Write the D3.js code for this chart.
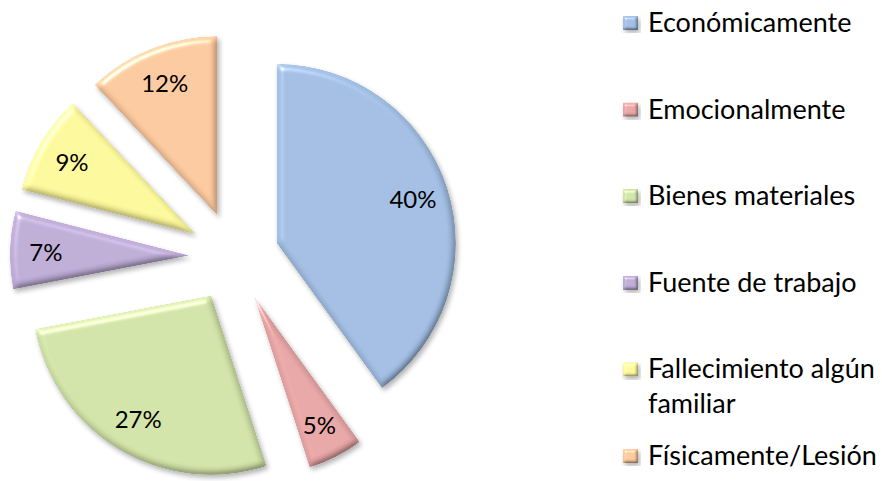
<!DOCTYPE html>
<html>
<head>
<meta charset="utf-8">
<script src="https://cdn.jsdelivr.net/npm/d3@7/dist/d3.min.js"></script>
<style>
  html, body { margin: 0; padding: 0; background: #fff; }
  svg { display: block; }
  text { font-family: Lato, "Open Sans", sans-serif; fill: #000; }
</style>
</head>
<body>
<svg id="chart" width="882" height="481"></svg>
<script>
// Categories, values (percent) and colours of the exploded pie
const categories = ["Económicamente", "Emocionalmente", "Bienes materiales",
                    "Fuente de trabajo", "Fallecimiento algún familiar", "Físicamente/Lesión"];
const values = [40, 5, 27, 7, 9, 12];
const colors = ["#9fbbe0", "#e5a3a3", "#cfe1a5", "#bba9d3", "#f9f598", "#f9c69b"];
const legendLines = [["Económicamente"], ["Emocionalmente"], ["Bienes materiales"],
                     ["Fuente de trabajo"], ["Fallecimiento algún", "familiar"], ["Físicamente/Lesión"]];

const svg = d3.select("#chart");
const cx = 234, cy = 257, radius = 179, explode = 45, labelFrac = 0.8;

// Bevel + soft shadow filter for the slices and legend keys
const defs = svg.append("defs");
function bevel(id, blur, scale) {
  const f = defs.append("filter").attr("id", id)
    .attr("x", "-20%").attr("y", "-20%").attr("width", "140%").attr("height", "140%");
  f.append("feGaussianBlur").attr("in", "SourceAlpha").attr("stdDeviation", blur).attr("result", "b");
  const dl = f.append("feDiffuseLighting").attr("in", "b").attr("surfaceScale", scale)
    .attr("diffuseConstant", 1).attr("lighting-color", "#fff").attr("result", "d");
  dl.append("feDistantLight").attr("azimuth", 235).attr("elevation", 55);
  const sl = f.append("feSpecularLighting").attr("in", "b").attr("surfaceScale", scale)
    .attr("specularConstant", 0.9).attr("specularExponent", 60).attr("lighting-color", "#fff").attr("result", "s");
  sl.append("feDistantLight").attr("azimuth", 235).attr("elevation", 55);
  // remove the flat-surface specular baseline
  const ct = f.append("feComponentTransfer").attr("in", "s").attr("result", "s2");
  ["R", "G", "B"].forEach(c => ct.append("feFunc" + c).attr("type", "linear").attr("slope", 1.6).attr("intercept", -0.45));
  ct.append("feFuncA").attr("type", "identity");
  f.append("feComposite").attr("in", "SourceGraphic").attr("in2", "d")
    .attr("operator", "arithmetic").attr("k1", 1.22).attr("k2", 0).attr("k3", 0).attr("k4", 0).attr("result", "lit");
  f.append("feComposite").attr("in", "lit").attr("in2", "s2")
    .attr("operator", "arithmetic").attr("k1", 0).attr("k2", 1).attr("k3", 0.6).attr("k4", 0).attr("result", "lit2");
  f.append("feComposite").attr("in", "lit2").attr("in2", "SourceAlpha").attr("operator", "in").attr("result", "body");
  f.append("feGaussianBlur").attr("in", "SourceAlpha").attr("stdDeviation", 2.5).attr("result", "sb");
  f.append("feOffset").attr("in", "sb").attr("dx", 1.5).attr("dy", 3).attr("result", "so");
  const sc = f.append("feComponentTransfer").attr("in", "so").attr("result", "shadow");
  sc.append("feFuncA").attr("type", "linear").attr("slope", 0.3);
  const m = f.append("feMerge");
  m.append("feMergeNode").attr("in", "shadow");
  m.append("feMergeNode").attr("in", "body");
}
bevel("bevel", 3, 3);
bevel("bevelSmall", 1.5, 2);

const pie = d3.pie().sort(null).value(d => d)(values);
const arc = d3.arc().innerRadius(0).outerRadius(radius);

const slices = svg.append("g").attr("transform", `translate(${cx},${cy})`)
  .selectAll("g").data(pie).join("g")
  .attr("transform", d => {
    const m = (d.startAngle + d.endAngle) / 2;
    return `translate(${explode * Math.sin(m)},${-explode * Math.cos(m)})`;
  });

slices.append("path")
  .attr("d", arc)
  .attr("fill", (d, i) => colors[i])
  .attr("filter", "url(#bevel)");

slices.append("text")
  .attr("x", d => labelFrac * radius * Math.sin((d.startAngle + d.endAngle) / 2))
  .attr("y", d => -labelFrac * radius * Math.cos((d.startAngle + d.endAngle) / 2))
  .attr("text-anchor", "middle")
  .attr("dominant-baseline", "central")
  .attr("font-size", 24)
  .text(d => d.data + "%");

// Legend
const ly = d3.scalePoint().domain(categories).range([32, 465]);
const legend = svg.append("g").selectAll("g").data(categories).join("g")
  .attr("transform", d => `translate(0,${ly(d)})`);
legend.append("rect")
  .attr("x", 623).attr("y", -16).attr("width", 15).attr("height", 14)
  .attr("fill", (d, i) => colors[i])
  .attr("filter", "url(#bevelSmall)");
legend.append("text")
  .attr("x", 648).attr("y", 0)
  .attr("font-size", 27)
  .selectAll("tspan").data((d, i) => legendLines[i]).join("tspan")
  .attr("x", 648).attr("dy", (t, j) => j === 0 ? 0 : 35)
  .text(t => t);
</script>
</body>
</html>
